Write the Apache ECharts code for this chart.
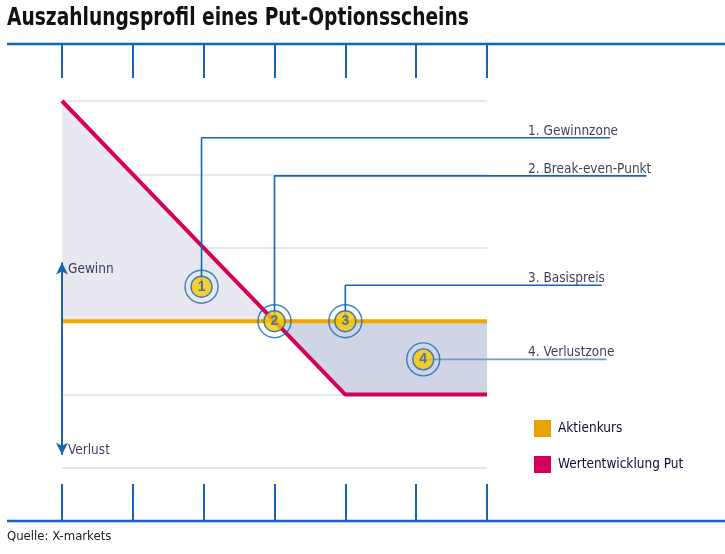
<!DOCTYPE html>
<html>
<head>
<meta charset="utf-8">
<script src="https://cdn.jsdelivr.net/npm/echarts@6/dist/echarts.min.js"></script>
<style>
html,body{margin:0;padding:0;background:#fff;}
#chart{width:725px;height:554px;}
</style>
</head>
<body>
<div id="chart"></div>
<script>
// ---- data ----
var xTicks = [0, 1, 2, 3, 4, 5, 6];
var aktienkurs = [2, 2, 2, 2, 2, 2, 2];
var putValue = [5, 4, 3, 2, 1, 1, 1];
var markerPoints = [[1.97, 2.47], [3, 2], [4, 2], [5.1, 1.48]];
var markerLabels = ['1', '2', '3', '4'];
var zoneLabels = ['1. Gewinnzone', '2. Break-even-Punkt', '3. Basispreis', '4. Verlustzone'];
var connectorEndY = [4.5, 3.98, 2.49, 1.48];
var connectorEndX = [7.74, 8.25, 7.62, 7.69];
var axisLabels = ['Gewinn', 'Verlust'];

var FONT = "'Liberation Sans Narrow','DejaVu Sans Condensed',sans-serif";
var BLUE = '#1565b4';
var TEXT = '#0d0d30';

var upperFill = [], lowerFill = [];
xTicks.forEach(function (x, i) {
  if (putValue[i] >= aktienkurs[i]) upperFill.push([x, putValue[i]]);
  if (putValue[i] <= aktienkurs[i]) lowerFill.push([x, putValue[i]]);
});
var put = xTicks.map(function (x, i) { return [x, putValue[i]]; });
var akt = xTicks.map(function (x, i) { return [x, aktienkurs[i]]; });

var connectors = markerPoints.map(function (p, i) {
  var pts = [p];
  if (i < 3) pts.push([p[0], connectorEndY[i]]);
  pts.push([connectorEndX[i], connectorEndY[i]]);
  return {
    type: 'line', xAxisIndex: 2, yAxisIndex: 1, data: pts, symbol: 'none', silent: true, z: 4,
    lineStyle: { color: i === 3 ? '#7b98cc' : BLUE, width: 1.6 }
  };
});

var labelXStart = 6.58;
var labelData = zoneLabels.map(function (t, i) {
  return { name: t, value: [labelXStart, connectorEndY[i] + 0.09] };
});
labelData.push({ name: axisLabels[0], value: [0.085, 2.70] });
labelData.push({ name: axisLabels[1], value: [0.085, 0.235] });

var hiddenAxis = {
  axisLine: { show: false }, axisTick: { show: false }, axisLabel: { show: false }, splitLine: { show: false }
};

var chart = echarts.init(document.getElementById('chart'), null, { renderer: 'canvas' });
chart.setOption({
  animation: false,
  backgroundColor: '#fff',
  grid: [
    { left: 62, right: 238, top: 101, bottom: 86 },
    { left: 62, width: 637.5, top: 101, bottom: 86 }
  ],
  xAxis: [
    { type: 'value', min: 0, max: 6, interval: 1, position: 'bottom', offset: 16,
      axisLine: { show: false, onZero: false }, axisLabel: { show: false }, splitLine: { show: false },
      axisTick: { show: true, inside: false, length: 37, lineStyle: { color: BLUE, width: 2 } } },
    { type: 'value', min: 0, max: 6, interval: 1, position: 'top', offset: 57,
      axisLine: { show: false, onZero: false }, axisLabel: { show: false }, splitLine: { show: false },
      axisTick: { show: true, inside: true, length: 34, lineStyle: { color: BLUE, width: 2 } } },
    Object.assign({ type: 'value', gridIndex: 1, min: 0, max: 9 }, hiddenAxis)
  ],
  yAxis: [
    { type: 'value', min: 0, max: 5, interval: 1,
      axisLine: { show: false }, axisTick: { show: false }, axisLabel: { show: false },
      splitLine: { show: true, lineStyle: { color: '#e6e6ee', width: 2 } } },
    Object.assign({ type: 'value', gridIndex: 1, min: 0, max: 5 }, hiddenAxis)
  ],
  legend: {
    orient: 'vertical', left: 529, top: 415, itemWidth: 17, itemHeight: 17, itemGap: 19,
    icon: 'rect', data: ['Aktienkurs', 'Wertentwicklung Put'],
    textStyle: { fontFamily: FONT, fontSize: 13.5, color: TEXT, padding: [0, 0, 0, 2] }
  },
  graphic: [
    { type: 'text', x: 7, y: 7, scaleX: 0.864, z: 10,
      style: { text: 'Auszahlungsprofil eines Put-Optionsscheins', fill: '#111',
        font: "bold 24px 'Liberation Sans Narrow','DejaVu Sans Condensed',sans-serif", textVerticalAlign: 'top' } },
    { type: 'text', x: 7, y: 530, z: 10,
      style: { text: 'Quelle: X-markets', fill: '#222',
        font: "13px 'Liberation Sans Narrow','DejaVu Sans Condensed',sans-serif", textVerticalAlign: 'top' } },
    { type: 'line', shape: { x1: 7, y1: 44, x2: 725, y2: 44 }, style: { stroke: BLUE, lineWidth: 2.5 }, z: 10 },
    { type: 'line', shape: { x1: 7, y1: 521, x2: 725, y2: 521 }, style: { stroke: BLUE, lineWidth: 2.5 }, z: 10 }
  ],
  series: [
    { type: 'line', data: upperFill, symbol: 'none', silent: true, z: 1,
      lineStyle: { width: 0 }, areaStyle: { origin: 2, color: '#e8e8f1', opacity: 1 } },
    { type: 'line', data: lowerFill, symbol: 'none', silent: true, z: 1,
      lineStyle: { width: 0 }, areaStyle: { origin: 2, color: '#d0d5e6', opacity: 1 } },
    { name: 'Aktienkurs', type: 'line', data: akt, symbol: 'none', z: 3,
      itemStyle: { color: '#e9a300' }, lineStyle: { color: '#f0a800', width: 4 } },
    { name: 'Wertentwicklung Put', type: 'line', data: put, symbol: 'none', z: 3,
      itemStyle: { color: '#d4005a' }, lineStyle: { color: '#d4005a', width: 4 },
      markLine: {
        silent: true, symbol: ['arrow', 'arrow'], symbolSize: [9, 12],
        lineStyle: { color: BLUE, width: 2, type: 'solid' }, label: { show: false },
        data: [[{ coord: [0, 2.8] }, { coord: [0, 0.18] }]]
      } }
  ].concat(connectors).concat([
    { type: 'scatter', xAxisIndex: 2, yAxisIndex: 1, data: markerPoints, symbolSize: 33, silent: true, z: 5,
      itemStyle: { color: 'rgba(0,0,0,0)', borderColor: BLUE, borderWidth: 1.4 } },
    { type: 'scatter', xAxisIndex: 2, yAxisIndex: 1,
      data: markerPoints.map(function (p, i) { return { name: markerLabels[i], value: p }; }),
      symbolSize: 21, silent: true, z: 6,
      itemStyle: { color: '#f7c800', borderColor: BLUE, borderWidth: 1.4 },
      label: { show: true, position: 'inside', formatter: '{b}', color: '#2a5fae',
        fontFamily: "'Liberation Sans','DejaVu Sans',sans-serif", fontWeight: 'bold', fontSize: 14 } },
    { type: 'scatter', xAxisIndex: 2, yAxisIndex: 1, data: labelData, symbolSize: 0, silent: true, z: 7,
      itemStyle: { color: TEXT },
      label: { show: true, position: 'right', distance: 0, formatter: '{b}',
        fontFamily: FONT, fontSize: 13.5, color: TEXT } }
  ])
});
</script>
</body>
</html>
